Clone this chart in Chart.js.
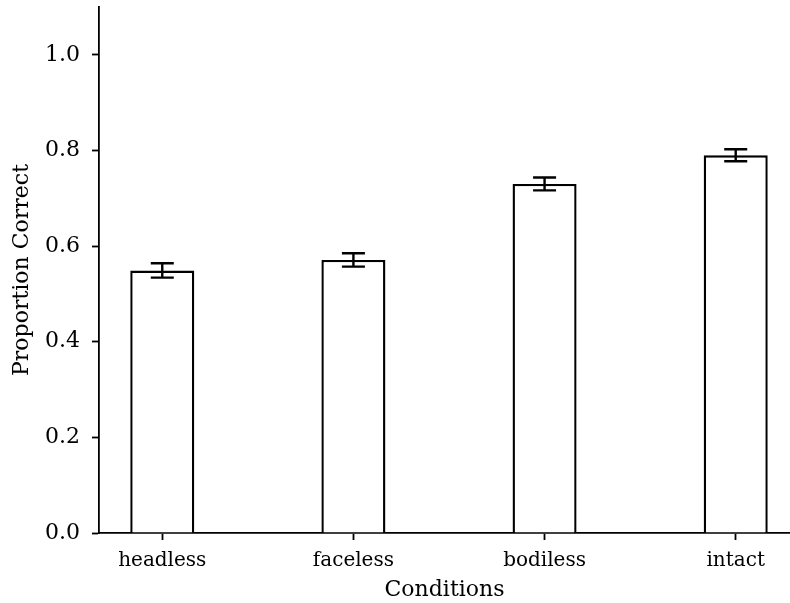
<!DOCTYPE html>
<html>
<head>
<meta charset="utf-8">
<script src="https://cdn.jsdelivr.net/npm/chart.js@4/dist/chart.umd.min.js"></script>
<style>
  html, body { margin: 0; padding: 0; background: #fff; }
  #wrap { width: 790px; height: 603px; }
</style>
</head>
<body>
<div id="wrap"><canvas id="c" width="790" height="603"></canvas></div>
<script>
// Proportion correct per viewing condition, with standard-error bars
const conditions = ['headless', 'faceless', 'bodiless', 'intact'];
const proportionCorrect = [0.549, 0.571, 0.730, 0.790];
const standardError = [0.015, 0.014, 0.0135, 0.0125];
const yTicks = [0.0, 0.2, 0.4, 0.6, 0.8, 1.0];

const FONT = '"DejaVu Serif", "Liberation Serif", serif';

// Draws vertical error bars with caps on top of each bar
const errorBars = {
  id: 'errorBars',
  afterDatasetsDraw(chart) {
    const { ctx, scales: { x, y } } = chart;
    ctx.save();
    ctx.strokeStyle = '#000';
    ctx.lineWidth = 2.4;
    const cap = 11.5;
    proportionCorrect.forEach((v, i) => {
      const px = x.getPixelForValue(i);
      const top = y.getPixelForValue(v + standardError[i]);
      const bot = y.getPixelForValue(v - standardError[i]);
      ctx.beginPath();
      ctx.moveTo(px, top); ctx.lineTo(px, bot);
      ctx.moveTo(px - cap, top); ctx.lineTo(px + cap, top);
      ctx.moveTo(px - cap, bot); ctx.lineTo(px + cap, bot);
      ctx.stroke();
    });
    ctx.restore();
  }
};

new Chart(document.getElementById('c'), {
  type: 'bar',
  data: {
    datasets: [{
      data: proportionCorrect.map((v, i) => ({ x: i, y: v })),
      backgroundColor: '#ffffff',
      borderColor: '#000000',
      borderWidth: 2.4,
      categoryPercentage: 1,
      barPercentage: 0.335
    }]
  },
  options: {
    responsive: false,
    animation: false,
    layout: { padding: { top: 7, right: 0, bottom: 0, left: 0 } },
    plugins: { legend: { display: false }, tooltip: { enabled: false } },
    scales: {
      x: {
        type: 'linear',
        offset: false,
        min: -0.331,
        max: 3.284,
        afterBuildTicks: axis => { axis.ticks = conditions.map((_, i) => ({ value: i })); },
        afterFit: axis => { axis.height = 70; axis.paddingLeft = 0; axis.paddingRight = 0; },
        grid: { display: true, offset: false, drawOnChartArea: false, drawTicks: true, tickLength: 7, tickColor: '#000', tickWidth: 1.8 },
        border: { display: true, color: '#000', width: 1.8 },
        ticks: {
          autoSkip: false,
          maxRotation: 0,
          padding: 9,
          color: '#000',
          font: { family: FONT, size: 20 },
          callback: v => conditions[v]
        },
        title: {
          display: true,
          text: 'Conditions',
          color: '#000',
          font: { family: FONT, size: 22 },
          padding: { top: 0, bottom: 0 }
        }
      },
      y: {
        min: 0,
        max: 1.1,
        afterBuildTicks: axis => { axis.ticks = yTicks.map(v => ({ value: v })); },
        afterFit: axis => { axis.width = 99; axis.paddingTop = 0; axis.paddingBottom = 0; },
        grid: { display: true, drawOnChartArea: false, drawTicks: true, tickLength: 7, tickColor: '#000', tickWidth: 1.8 },
        border: { display: true, color: '#000', width: 1.8 },
        ticks: {
          padding: 12,
          color: '#000',
          font: { family: FONT, size: 22 },
          callback: v => v.toFixed(1)
        },
        title: {
          display: true,
          text: 'Proportion Correct',
          color: '#000',
          font: { family: FONT, size: 22 },
          padding: { top: 9, bottom: 0 }
        }
      }
    }
  },
  plugins: [errorBars]
});
</script>
</body>
</html>
